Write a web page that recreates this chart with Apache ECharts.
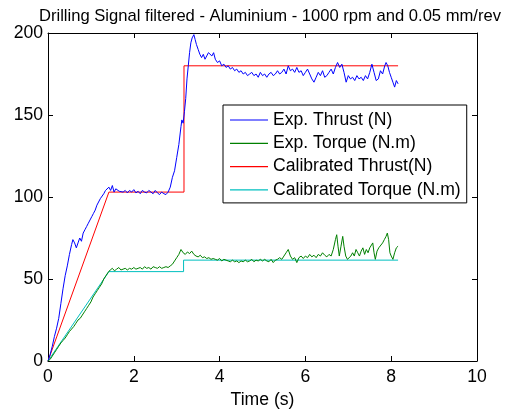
<!DOCTYPE html>
<html>
<head>
<meta charset="utf-8">
<script src="https://cdn.jsdelivr.net/npm/echarts@6/dist/echarts.min.js"></script>
<style>
html,body{margin:0;padding:0;background:#fff;}
#c{width:521px;height:409px;}
</style>
</head>
<body>
<div id="c"></div>
<script>
var titleText = 'Drilling Signal filtered - Aluminium - 1000 rpm and 0.05 mm/rev';
var xTicks = [0, 2, 4, 6, 8, 10];
var yTicks = [0, 50, 100, 150, 200];
var seriesNames = ['Exp. Thrust (N)', 'Exp. Torque (N.m)', 'Calibrated Thrust(N)', 'Calibrated Torque (N.m)'];

var expThrust = [
[0,0],[0.05,4],[0.1,9],[0.15,15],[0.2,20],[0.25,26],[0.3,35],[0.35,44],[0.4,52],[0.45,58],
[0.5,65],[0.55,71],[0.58,74],[0.62,72],[0.66,69],[0.7,72],[0.74,75],[0.78,73],[0.82,78],[0.86,80],
[0.9,82],[0.94,84],[0.98,86],[1.02,88],[1.06,90],[1.1,92],[1.14,95],[1.18,96],[1.22,99],[1.26,100],
[1.3,102],[1.34,104],[1.38,103],[1.42,106],[1.46,104],[1.5,107],[1.54,103],[1.58,105],[1.62,104],[1.66,103.5],
[1.7,104.5],[1.75,103],[1.8,104],[1.85,102.5],[1.9,104],[1.95,103],[2.0,104.5],[2.05,102.5],[2.1,103.5],[2.15,102],
[2.2,104],[2.25,103],[2.3,102.5],[2.35,104],[2.4,103],[2.45,102],[2.5,104],[2.55,102.5],[2.6,101.5],[2.65,103],
[2.7,102],[2.75,101.5],[2.8,103],[2.85,106],[2.9,112],[2.95,116],[3.0,124],[3.05,132],[3.1,143],[3.12,147],
[3.15,145],[3.18,152],[3.21,160],[3.24,172],[3.27,180],[3.3,188],[3.33,194],[3.36,197],[3.4,199],[3.43,196],
[3.46,193],[3.5,190],[3.54,187],[3.58,185],[3.62,187],[3.66,184],[3.7,186],[3.74,188],[3.78,189],[3.82,186],
[3.86,188],[3.9,184],[3.95,182],[4.0,183],[4.05,180],[4.1,181],[4.15,179],[4.2,180],[4.25,178],[4.3,179],
[4.35,177],[4.4,178],[4.45,176],[4.5,177],[4.55,175],[4.6,176],[4.65,174],[4.7,175],[4.75,176],[4.8,174],
[4.85,175],[4.9,173],[4.95,176],[5.0,174],[5.05,175],[5.1,173],[5.15,175],[5.2,176],[5.25,174],[5.3,175],
[5.35,177],[5.4,175],[5.45,176],[5.5,178],[5.55,175],[5.6,180],[5.65,177],[5.7,178],[5.75,176],[5.8,179],
[5.85,176],[5.9,177],[5.95,174],[6.0,176],[6.05,178],[6.1,175],[6.15,172],[6.2,170],[6.25,173],[6.3,176],
[6.35,174],[6.4,177],[6.45,173],[6.5,174],[6.55,176],[6.6,178],[6.65,175],[6.7,179],[6.75,182],[6.8,179],
[6.85,181],[6.9,176],[6.95,170],[7.0,174],[7.05,172],[7.1,173],[7.15,171],[7.2,174],[7.25,172],[7.3,173],
[7.35,171],[7.4,174],[7.45,172],[7.5,176],[7.55,181],[7.6,176],[7.65,171],[7.7,172],[7.75,177],[7.8,175],
[7.85,180],[7.88,182],[7.92,180],[7.96,176],[8.0,173],[8.04,170],[8.08,167],[8.12,171],[8.16,169]
];

var expTorque = [
[0,0],[0.05,1],[0.1,3],[0.15,5],[0.2,7],[0.25,9],[0.3,11],[0.35,12.5],[0.4,14],[0.45,16],
[0.5,18],[0.55,19.5],[0.6,21],[0.65,23],[0.7,25],[0.75,26],[0.8,28],[0.85,30],[0.9,32],[0.95,34],
[1.0,36],[1.05,39],[1.1,41],[1.15,43],[1.2,45],[1.25,47],[1.3,50],[1.35,52],[1.4,54],[1.45,55.5],
[1.5,56.5],[1.55,55],[1.6,56],[1.65,57],[1.7,55.5],[1.75,56],[1.8,56.5],[1.85,55.5],[1.9,56.5],[1.95,56],
[2.0,57],[2.05,56],[2.1,56.5],[2.15,57],[2.2,56],[2.25,57.5],[2.3,56.5],[2.35,57],[2.4,56],[2.45,57.5],
[2.5,57],[2.55,56.5],[2.6,57.5],[2.65,56.5],[2.7,57],[2.75,57.5],[2.8,57],[2.85,58],[2.9,59],[2.95,61],
[3.0,63],[3.05,65],[3.1,68],[3.15,66],[3.2,65],[3.25,66.5],[3.3,65.5],[3.35,67],[3.4,65],[3.45,64],
[3.5,63.5],[3.55,64.5],[3.6,63],[3.65,63.5],[3.7,62.5],[3.75,63],[3.8,62],[3.85,62.5],[3.9,62],[3.95,61.5],
[4.0,62.5],[4.05,61],[4.1,62],[4.15,61.5],[4.2,61],[4.25,60.5],[4.3,61.5],[4.35,60.5],[4.4,61],[4.45,60],
[4.5,61],[4.55,60.5],[4.6,61.5],[4.65,60.5],[4.7,61],[4.75,62],[4.8,60.5],[4.85,61.5],[4.9,61],[4.95,62],
[5.0,61],[5.05,62],[5.1,61],[5.15,60.5],[5.2,62],[5.25,60],[5.3,61.5],[5.35,62],[5.4,63],[5.45,62],
[5.5,64],[5.55,66],[5.6,68],[5.65,64],[5.7,62],[5.75,63],[5.8,60],[5.85,63],[5.9,64],[5.95,62.5],
[6.0,64],[6.05,63],[6.1,65],[6.15,63.5],[6.2,64.5],[6.25,63],[6.3,65],[6.35,64],[6.4,66],[6.45,64.5],
[6.5,63.5],[6.55,65],[6.6,64],[6.65,68],[6.7,74],[6.73,77],[6.76,70],[6.79,64],[6.83,70],[6.87,76],
[6.9,70],[6.94,64],[6.98,62],[7.02,61.5],[7.06,64],[7.1,66],[7.14,64],[7.18,68],[7.22,66],[7.26,64],
[7.3,67],[7.34,69],[7.38,65],[7.42,68],[7.46,66],[7.5,69],[7.54,70],[7.57,72],[7.6,66],[7.63,62],
[7.67,67],[7.71,69],[7.75,68],[7.8,72],[7.84,74],[7.88,76],[7.91,78],[7.94,74],[7.97,66],[8.0,64],
[8.04,62],[8.08,66],[8.12,69],[8.16,70]
];

var calThrust = [[0,0],[1.42,103],[3.17,103],[3.17,180],[8.16,180]];
var calTorque = [[0,0],[1.42,54.5],[3.16,54.5],[3.16,61.5],[8.16,61.5]];

var colors = ['#0000ff', '#008000', '#ff0000', '#00bfbf'];
var FONT = 'Liberation Sans, Arial, sans-serif';
var FS = 17.6;

var chart = echarts.init(document.getElementById('c'), null, {renderer: 'canvas'});

function mkLine(name, data, color, z) {
  return {
    name: name, type: 'line', data: data, showSymbol: false, symbol: 'none',
    lineStyle: {color: color, width: 1}, itemStyle: {color: color},
    animation: false, z: z, silent: true
  };
}

var baseAxis = {
  axisLine: {show: true, onZero: false, lineStyle: {color: '#000', width: 1}},
  axisTick: {show: true, inside: true, length: 5, lineStyle: {color: '#000'}},
  splitLine: {show: false}
};

chart.setOption({
  backgroundColor: '#fff',
  animation: false,
  title: {
    text: titleText, left: 265, top: 3, textAlign: 'center',
    textStyle: {fontFamily: FONT, fontSize: 16.6, fontWeight: 'normal', color: '#000'}
  },
  legend: {
    data: seriesNames.map(function (n) { return {name: n, icon: 'rect'}; }),
    orient: 'vertical', left: 223, top: 105,
    itemWidth: 38, itemHeight: 1.2, itemGap: 5.3,
    padding: [6, 6, 4, 7],
    borderColor: '#000', borderWidth: 1, backgroundColor: '#fff',
    textStyle: {fontFamily: FONT, fontSize: FS, color: '#000', lineHeight: 18},
    selectedMode: false
  },
  grid: {left: 48, top: 33, width: 429, height: 328, containLabel: false, outerBoundsMode: 'none'},
  xAxis: [
    Object.assign({}, baseAxis, {
      type: 'value', min: 0, max: 10, interval: 2, position: 'bottom',
      name: 'Time (s)', nameLocation: 'middle', nameGap: 25,
      nameTextStyle: {fontFamily: FONT, fontSize: FS, color: '#000'},
      axisLabel: {fontFamily: FONT, fontSize: FS, color: '#000', margin: 7,
        formatter: function (v) { return xTicks.indexOf(v) >= 0 ? String(v) : ''; }}
    }),
    Object.assign({}, baseAxis, {
      type: 'value', min: 0, max: 10, interval: 2, position: 'top',
      axisLabel: {show: false}
    })
  ],
  yAxis: [
    Object.assign({}, baseAxis, {
      type: 'value', min: 0, max: 200, interval: 50, position: 'left',
      axisLabel: {fontFamily: FONT, fontSize: FS, color: '#000', margin: 5,
        formatter: function (v) { return yTicks.indexOf(v) >= 0 ? String(v) : ''; }}
    }),
    Object.assign({}, baseAxis, {
      type: 'value', min: 0, max: 200, interval: 50, position: 'right',
      axisLabel: {show: false}
    })
  ],
  series: [
    mkLine(seriesNames[0], expThrust, colors[0], 4),
    mkLine(seriesNames[1], expTorque, colors[1], 4),
    mkLine(seriesNames[2], calThrust, colors[2], 3),
    mkLine(seriesNames[3], calTorque, colors[3], 3)
  ]
});
</script>
</body>
</html>
